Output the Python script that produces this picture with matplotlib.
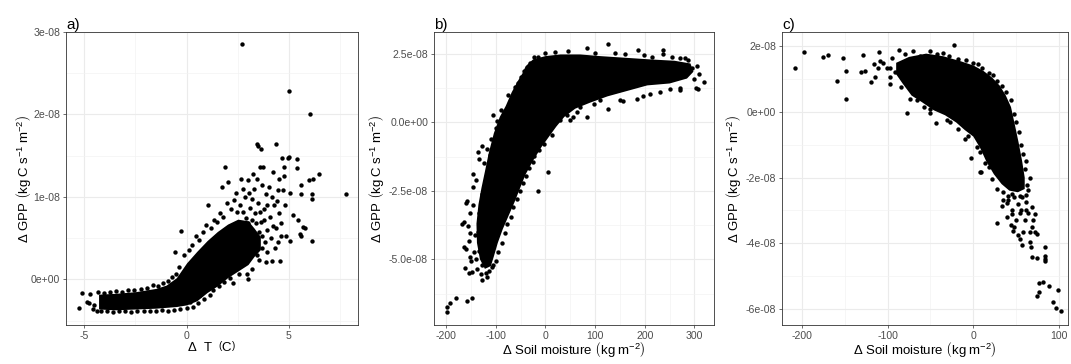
import numpy as np
import matplotlib
matplotlib.use("Agg")
import matplotlib.pyplot as plt

plt.rcParams["font.family"] = ["Liberation Sans", "DejaVu Sans"]
plt.rcParams["mathtext.fontset"] = "custom"
plt.rcParams["mathtext.rm"] = "Liberation Sans"
plt.rcParams["mathtext.it"] = "Liberation Sans:italic"

# --- data (GPP in units of 1e-08 kg C s-1 m-2) ---

# a) dGPP vs dT : dense core band (lower / upper edge) and the individual dots
a_core_x = [-4.3, -3.5, -2.5, -1.5, -1.0, -0.5, 0.0, 0.5, 1.0, 1.5, 2.0, 2.5, 3.0, 3.3, 3.6]
a_core_lo = [-0.36, -0.37, -0.36, -0.35, -0.34, -0.33, -0.31, -0.26, -0.16, -0.08, 0.02, 0.10, 0.18, 0.28, 0.36]
a_core_hi = [-0.18, -0.17, -0.15, -0.11, -0.07, 0.02, 0.20, 0.34, 0.47, 0.58, 0.67, 0.73, 0.71, 0.62, 0.52]
a_points = [
    (-5.24, -0.35), (-5.11, -0.16), (-4.88, -0.28), (-4.76, -0.29), (-4.72, -0.18), (-4.52, -0.31),
    (-4.40, -0.39), (-4.58, -0.36), (-4.15, -0.30),
    (-4.35, -0.15), (-4.05, -0.16), (-3.75, -0.15), (-3.45, -0.14), (-3.15, -0.15), (-2.85, -0.13),
    (-2.55, -0.13), (-2.25, -0.12), (-1.95, -0.11), (-1.66, -0.07), (-1.40, -0.08), (-1.15, -0.05),
    (-0.90, -0.02), (-0.70, 0.03), (-0.50, 0.07),
    (-4.20, -0.38), (-3.90, -0.39), (-3.60, -0.40), (-3.30, -0.38), (-3.00, -0.39), (-2.70, -0.40),
    (-2.40, -0.38), (-2.10, -0.39), (-1.80, -0.38), (-1.50, -0.39), (-1.20, -0.37), (-0.90, -0.38),
    (-0.60, -0.37), (-0.30, -0.36), (0.00, -0.35), (0.16, -0.28), (0.30, -0.33), (0.55, -0.29),
    (0.66, -0.19), (0.85, -0.24), (1.15, -0.19), (1.30, -0.13), (1.60, -0.08), (1.85, -0.03),
    (2.28, -0.05), (2.10, 0.02), (2.57, 0.06), (2.96, 0.07), (2.98, 0.00), (3.20, 0.12),
    (3.55, 0.23), (3.88, 0.21), (4.16, 0.22), (4.57, 0.22), (3.45, 0.30), (3.70, 0.38), (3.95, 0.33),
    (4.30, 0.38), (4.45, 0.45),
    (-0.57, 0.33), (-0.29, 0.59), (-0.35, 0.15), (-0.15, 0.30), (0.10, 0.36), (0.25, 0.42), (0.44, 0.52),
    (0.60, 0.48), (0.80, 0.58), (0.95, 0.66), (1.06, 0.90), (1.20, 0.62), (1.35, 0.72), (1.50, 0.70),
    (1.65, 0.80), (1.71, 1.12), (1.80, 0.76), (1.87, 1.36), (1.95, 0.92), (2.03, 1.18), (2.15, 0.85),
    (2.30, 0.96), (2.45, 0.82), (2.40, 1.05), (2.60, 0.90), (2.66, 1.22), (2.75, 0.82), (2.85, 1.00),
    (2.90, 0.74), (3.00, 1.21), (3.10, 0.86), (3.20, 0.98), (3.25, 1.28), (3.35, 0.80), (3.46, 1.22),
    (3.47, 1.62), (3.50, 0.92), (3.60, 1.36), (3.61, 1.58), (3.65, 0.70), (3.74, 1.36), (3.80, 0.85),
    (3.90, 1.03), (3.92, 0.60), (4.00, 1.12), (4.05, 0.75), (4.20, 1.30), (4.25, 0.90), (4.35, 1.64),
    (4.35, 0.62), (4.50, 1.22), (4.50, 0.80), (4.60, 0.52), (4.64, 1.47), (4.70, 1.08), (4.75, 1.25),
    (4.76, 1.36), (4.80, 0.90), (4.85, 0.52), (4.98, 2.29), (4.97, 1.47), (5.01, 1.48), (5.05, 1.05),
    (5.05, 0.47), (5.20, 0.78), (5.38, 1.46), (5.40, 1.35), (5.45, 0.72), (5.56, 0.55), (5.59, 1.03),
    (5.60, 0.52), (5.60, 1.15), (5.69, 0.63), (5.77, 0.62), (5.99, 1.20), (6.03, 2.01), (6.10, 0.47),
    (6.12, 1.04), (6.12, 0.98), (6.19, 1.22), (6.48, 1.28), (7.78, 1.03), (2.72, 2.85), (3.45, 1.64),
    (3.30, 0.55), (3.45, 0.45), (3.55, 0.58), (3.70, 0.52), (3.85, 0.45), (3.40, 0.68), (3.60, 0.82),
    (3.20, 0.72), (3.00, 0.68), (3.80, 0.72), (4.10, 0.50), (4.20, 0.65), (3.95, 0.90), (4.40, 0.95),
    (4.60, 0.68), (4.15, 1.00), (3.30, 1.10), (3.05, 1.05), (2.75, 1.10), (3.70, 1.15), (4.45, 1.08),
]

# b) dGPP vs dSoil moisture : dense core outline and the individual dots
b_core = [
    (-40, 2.05), (-25, 2.30), (0, 2.42), (30, 2.48), (70, 2.48), (110, 2.42), (160, 2.36), (210, 2.30),
    (260, 2.25), (292, 2.15), (298, 1.85), (285, 1.60), (250, 1.42), (205, 1.35), (165, 1.15),
    (125, 0.95), (90, 0.72), (60, 0.50), (38, 0.20), (22, -0.15), (8, -0.50), (-8, -0.90), (-25, -1.40),
    (-40, -1.90), (-50, -2.35), (-62, -2.90), (-74, -3.40), (-86, -3.90), (-96, -4.40), (-104, -4.90),
    (-110, -5.25), (-122, -5.35), (-132, -5.00), (-138, -4.40), (-139, -3.70), (-135, -3.00),
    (-129, -2.40), (-122, -1.80), (-114, -1.10), (-104, -0.40), (-92, 0.20), (-80, 0.60), (-68, 1.10),
    (-56, 1.50), (-46, 1.80),
]
b_points = [
    (-198, -6.91), (-198, -6.73), (-192, -6.58), (-180, -6.40), (-159, -6.51), (-147, -6.40),
    (-165, -4.54), (-160, -4.62), (-163, -5.33), (-154, -5.50), (-147, -5.47), (-137, -5.37),
    (-127, -5.76), (-120, -5.51), (-117, -5.63), (-113, -5.42), (-105, -5.21), (-151, -4.93),
    (-149, -5.05), (-143, -4.72), (-153, -4.05), (-164, -3.63), (-157, -3.78), (-151, -3.30),
    (-159, -2.86), (-145, -2.35), (-140, -2.10), (-145, -1.90), (-133, -1.35), (-123, -1.50),
    (-135, -1.10), (-128, -0.85), (-117, -0.98), (-110, -0.60), (-105, 0.26), (-98, 0.05), (-83, 0.38),
    (-70, 0.74), (-75, 1.00), (-62, 1.30), (-56, 1.45), (-44, 1.86), (-39, 1.77), (-50, 1.65),
    (-23, 2.38), (-15, 2.38), (-32, 2.15), (-145, -3.00), (-142, -4.10), (-140, -5.00), (-130, -5.55),
    (-155, -4.35), (-168, -3.70), (-160, -2.95),
    (-90, 0.45), (-100, -0.20), (-112, -1.20), (-120, -2.00), (-128, -2.60), (-133, -3.30),
    (-136, -4.00), (-134, -4.70), (-128, -5.20),
    (-108, -5.30), (-100, -5.05), (-95, -4.75), (-88, -4.40), (-82, -4.05), (-78, -3.70), (-70, -3.45),
    (-66, -3.10), (-58, -2.80), (-52, -2.50), (-46, -2.20), (-40, -1.95), (-33, -1.65), (-25, -1.45),
    (-16, -2.50), (5, -1.83), (-23, -1.23), (-13, -1.02), (-3, -0.78), (13, -0.47), (17, -0.05),
    (30, 0.07), (43, 0.26), (56, 0.19), (50, 0.07), (63, 0.38), (70, 0.56), (83, 0.19), (97, 0.68),
    (110, 0.80), (125, 0.47), (150, 0.80), (157, 0.77), (184, 0.86), (197, 0.98), (211, 1.04),
    (231, 1.10), (251, 1.23), (271, 1.18), (271, 1.27), (304, 1.27), (308, 1.23), (319, 1.47),
    (300, 1.60), (310, 1.75), (295, 2.00), (305, 2.05),
    (0, 2.55), (20, 2.58), (45, 2.60), (83, 2.71), (100, 2.55), (125, 2.87), (140, 2.54), (160, 2.48),
    (186, 2.63), (198, 2.45), (215, 2.40), (236, 2.66), (237, 2.50), (255, 2.38), (270, 2.35),
    (281, 2.35), (288, 2.28),
]

# c) dGPP vs dSoil moisture (second case)
c_core = [
    (-90, 1.50), (-75, 1.68), (-55, 1.78), (-35, 1.70), (-15, 1.55), (0, 1.42), (12, 1.25), (22, 1.05),
    (31, 0.80), (38, 0.50), (44, 0.15), (49, -0.45), (53, -0.95), (57, -1.50), (60, -2.00), (60, -2.35),
    (52, -2.45), (42, -2.40), (33, -2.20), (24, -1.90), (15, -1.50), (8, -1.10), (0, -0.75),
    (-10, -0.55), (-20, -0.32), (-33, -0.10), (-46, 0.05), (-60, 0.30), (-72, 0.50), (-82, 0.85),
    (-90, 1.15),
]
c_points = [
    (-207.7, 1.33), (-198, 1.84), (-175, 1.67), (-170, 1.75), (-152, 1.64), (-159, 0.93), (-148, 1.26),
    (-149, 0.40), (-129, 1.75), (-131, 1.21), (-126, 1.24), (-110, 1.82), (-116, 1.46), (-109, 1.54),
    (-105, 1.49), (-111, 1.33), (-115, 1.08), (-119, 0.90), (-101, 1.34), (-97, 1.33), (-95, 1.64),
    (-87, 1.90), (-97, 1.06), (-97, 0.85), (-91, 1.21), (-77, -0.03),
    (-80, 1.78), (-70, 1.85), (-62, 1.72), (-50, 1.86), (-42, 1.76), (-35, 1.80), (-23, 2.05),
    (-28, 1.70), (-18, 1.62), (-8, 1.58), (0, 1.50), (5, 1.45), (10, 1.35), (18, 1.20), (23, 1.12),
    (28, 0.95), (34, 0.78), (38, 0.60), (43.6, 0.35), (47.9, -0.06), (50, -0.30), (53, -0.62),
    (56, -1.00), (58, -1.28), (62, -1.50), (60, -1.75), (63, -2.23), (66, -2.01), (64, -2.39),
    (62, -2.52), (61.5, -2.74),
    (-84, 0.75), (-74, 0.40), (-66, 0.35), (-58, 0.15), (-51, 0.09), (-50.5, -0.04), (-44, -0.34),
    (-31, -0.26), (-27, -0.31), (-17.5, -0.52), (-9.7, -0.82), (-5.8, -0.72), (-3, -1.41), (4, -1.08),
    (7.8, -1.23), (7.8, -1.82), (8.6, -1.83), (13.6, -1.56), (18.7, -1.69), (22, -2.05), (28, -2.35),
    (35, -2.45), (40.8, -2.69), (39, -2.79), (44.8, -2.98), (27.3, -3.40), (33.1, -2.88), (39, -3.20),
    (44.8, -3.10), (44, -3.45), (46, -3.63), (55, -3.08), (64, -3.07), (72, -3.10), (52.5, -3.76),
    (54.6, -3.87), (56.5, -4.06), (58.3, -3.66), (66, -3.66), (72, -3.66), (74, -3.71), (66.4, -3.96),
    (67.3, -4.13), (68.9, -4.42), (74.7, -4.45), (83.7, -4.13), (83.7, -4.40), (83.7, -4.50),
    (83.7, -4.55), (77, -5.23), (81.7, -5.20), (88.7, -5.30), (77, -5.49), (74.7, -5.61), (98.5, -5.44),
    (92.6, -5.79), (96.5, -5.99), (102.3, -6.08),
    (48, -2.60), (52, -2.80), (57, -2.60), (45, -2.50), (50, -3.30), (60, -3.30), (35, -2.70),
    (40, -2.55), (48, -3.50), (56, -3.00), (68, -2.90), (70, -3.30), (47, -2.20), (55, -2.55),
    (62, -3.00), (68, -3.50),
]

# axis ticks / labels
a_xticks = [-5, 0, 5]
a_yticks = [0, 1e-8, 2e-8, 3e-8]
a_ylabels = ["0e+00", "1e-08", "2e-08", "3e-08"]
b_xticks = [-200, -100, 0, 100, 200, 300]
b_yticks = [-5e-8, -2.5e-8, 0, 2.5e-8]
b_ylabels = ["-5.0e-08", "-2.5e-08", "0.0e+00", "2.5e-08"]
c_xticks = [-200, -100, 0, 100]
c_yticks = [-6e-8, -4e-8, -2e-8, 0, 2e-8]
c_ylabels = ["-6e-08", "-4e-08", "-2e-08", "0e+00", "2e-08"]

ylab = "Δ GPP " + r"$\left(\mathrm{kg\;C\;s^{-1}\;m^{-2}}\right)$"
xlab_t = r"$\Delta\ \ \mathrm{T}\ \ \left(\mathrm{C}\right)$"
xlab_sm = "Δ Soil moisture " + r"$\left(\mathrm{kg\;m^{-2}}\right)$"

SCALE = 1e-8
W, H = 1071, 364

fig = plt.figure(figsize=(W / 100, H / 100), dpi=100)


def panel(left, right, top=32, bottom=325):
    return fig.add_axes([left / W, 1 - bottom / H, (right - left) / W, (bottom - top) / H])


def style(ax, xticks, yticks, ylabels, xlim, ylim, tag, xlabel, ylab_x):
    ax.set_xticks(xticks, [str(t) for t in xticks])
    ax.set_yticks(yticks, ylabels)
    # minor grid half way between the major breaks
    step = xticks[1] - xticks[0]
    xm = [t + step / 2 for t in [xticks[0] - step] + list(xticks)]
    ystep = yticks[1] - yticks[0]
    ym = [t + ystep / 2 for t in [yticks[0] - ystep] + list(yticks)]
    ax.set_xticks(xm, minor=True)
    ax.set_yticks(ym, minor=True)
    # limits last: set_ticks widens the view to include every tick
    ax.set_xlim(*xlim)
    ax.set_ylim(*ylim)
    ax.grid(which="major", color="#EBEBEB", lw=0.8)
    ax.grid(which="minor", color="#F2F2F2", lw=0.45)
    ax.set_axisbelow(True)
    ax.tick_params(which="major", length=2.5, width=0.5, color="#333333",
                   labelsize=7.6, labelcolor="#4D4D4D", pad=1.8)
    ax.tick_params(which="minor", length=0)
    for s in ax.spines.values():
        s.set_color("#333333")
        s.set_linewidth(0.6)
    ax.set_ylabel(ylab, fontsize=9.5)
    ax.yaxis.set_label_coords(ylab_x, 0.5)
    ax.set_xlabel(xlabel, fontsize=9.5)
    ax.xaxis.set_label_coords(0.5, -0.052)
    ax.set_title(tag, loc="left", fontsize=11, pad=1.5)


dot = dict(s=10, c="black", linewidths=0, zorder=3)

# panel a
ax1 = panel(66, 358)
ax1.fill_between(a_core_x, np.array(a_core_lo) * SCALE, np.array(a_core_hi) * SCALE,
                 color="black", lw=0, zorder=2)
xa, ya = np.array(a_points).T
ax1.scatter(xa, ya * SCALE, **dot)
style(ax1, a_xticks, a_yticks, a_ylabels, (-5.89, 8.37), (-0.554e-8, 3.0e-8), "a)", xlab_t, -0.113)

# panel b
ax2 = panel(434, 714)
cx, cy = np.array(b_core).T
ax2.fill(cx, cy * SCALE, color="black", lw=0, zorder=2)
xb, yb = np.array(b_points).T
ax2.scatter(xb, yb * SCALE, **dot)
style(ax2, b_xticks, b_yticks, b_ylabels, (-224.5, 339.4), (-7.40e-8, 3.30e-8), "b)", xlab_sm, -0.172)

# panel c
ax3 = panel(782, 1068)
cx, cy = np.array(c_core).T
ax3.fill(cx, cy * SCALE, color="black", lw=0, zorder=2)
xc, yc = np.array(c_points).T
ax3.scatter(xc, yc * SCALE, **dot)
style(ax3, c_xticks, c_yticks, c_ylabels, (-223.2, 110.5), (-6.50e-8, 2.44e-8), "c)", xlab_sm, -0.136)

fig.savefig("out.png", dpi=100, facecolor="white")
